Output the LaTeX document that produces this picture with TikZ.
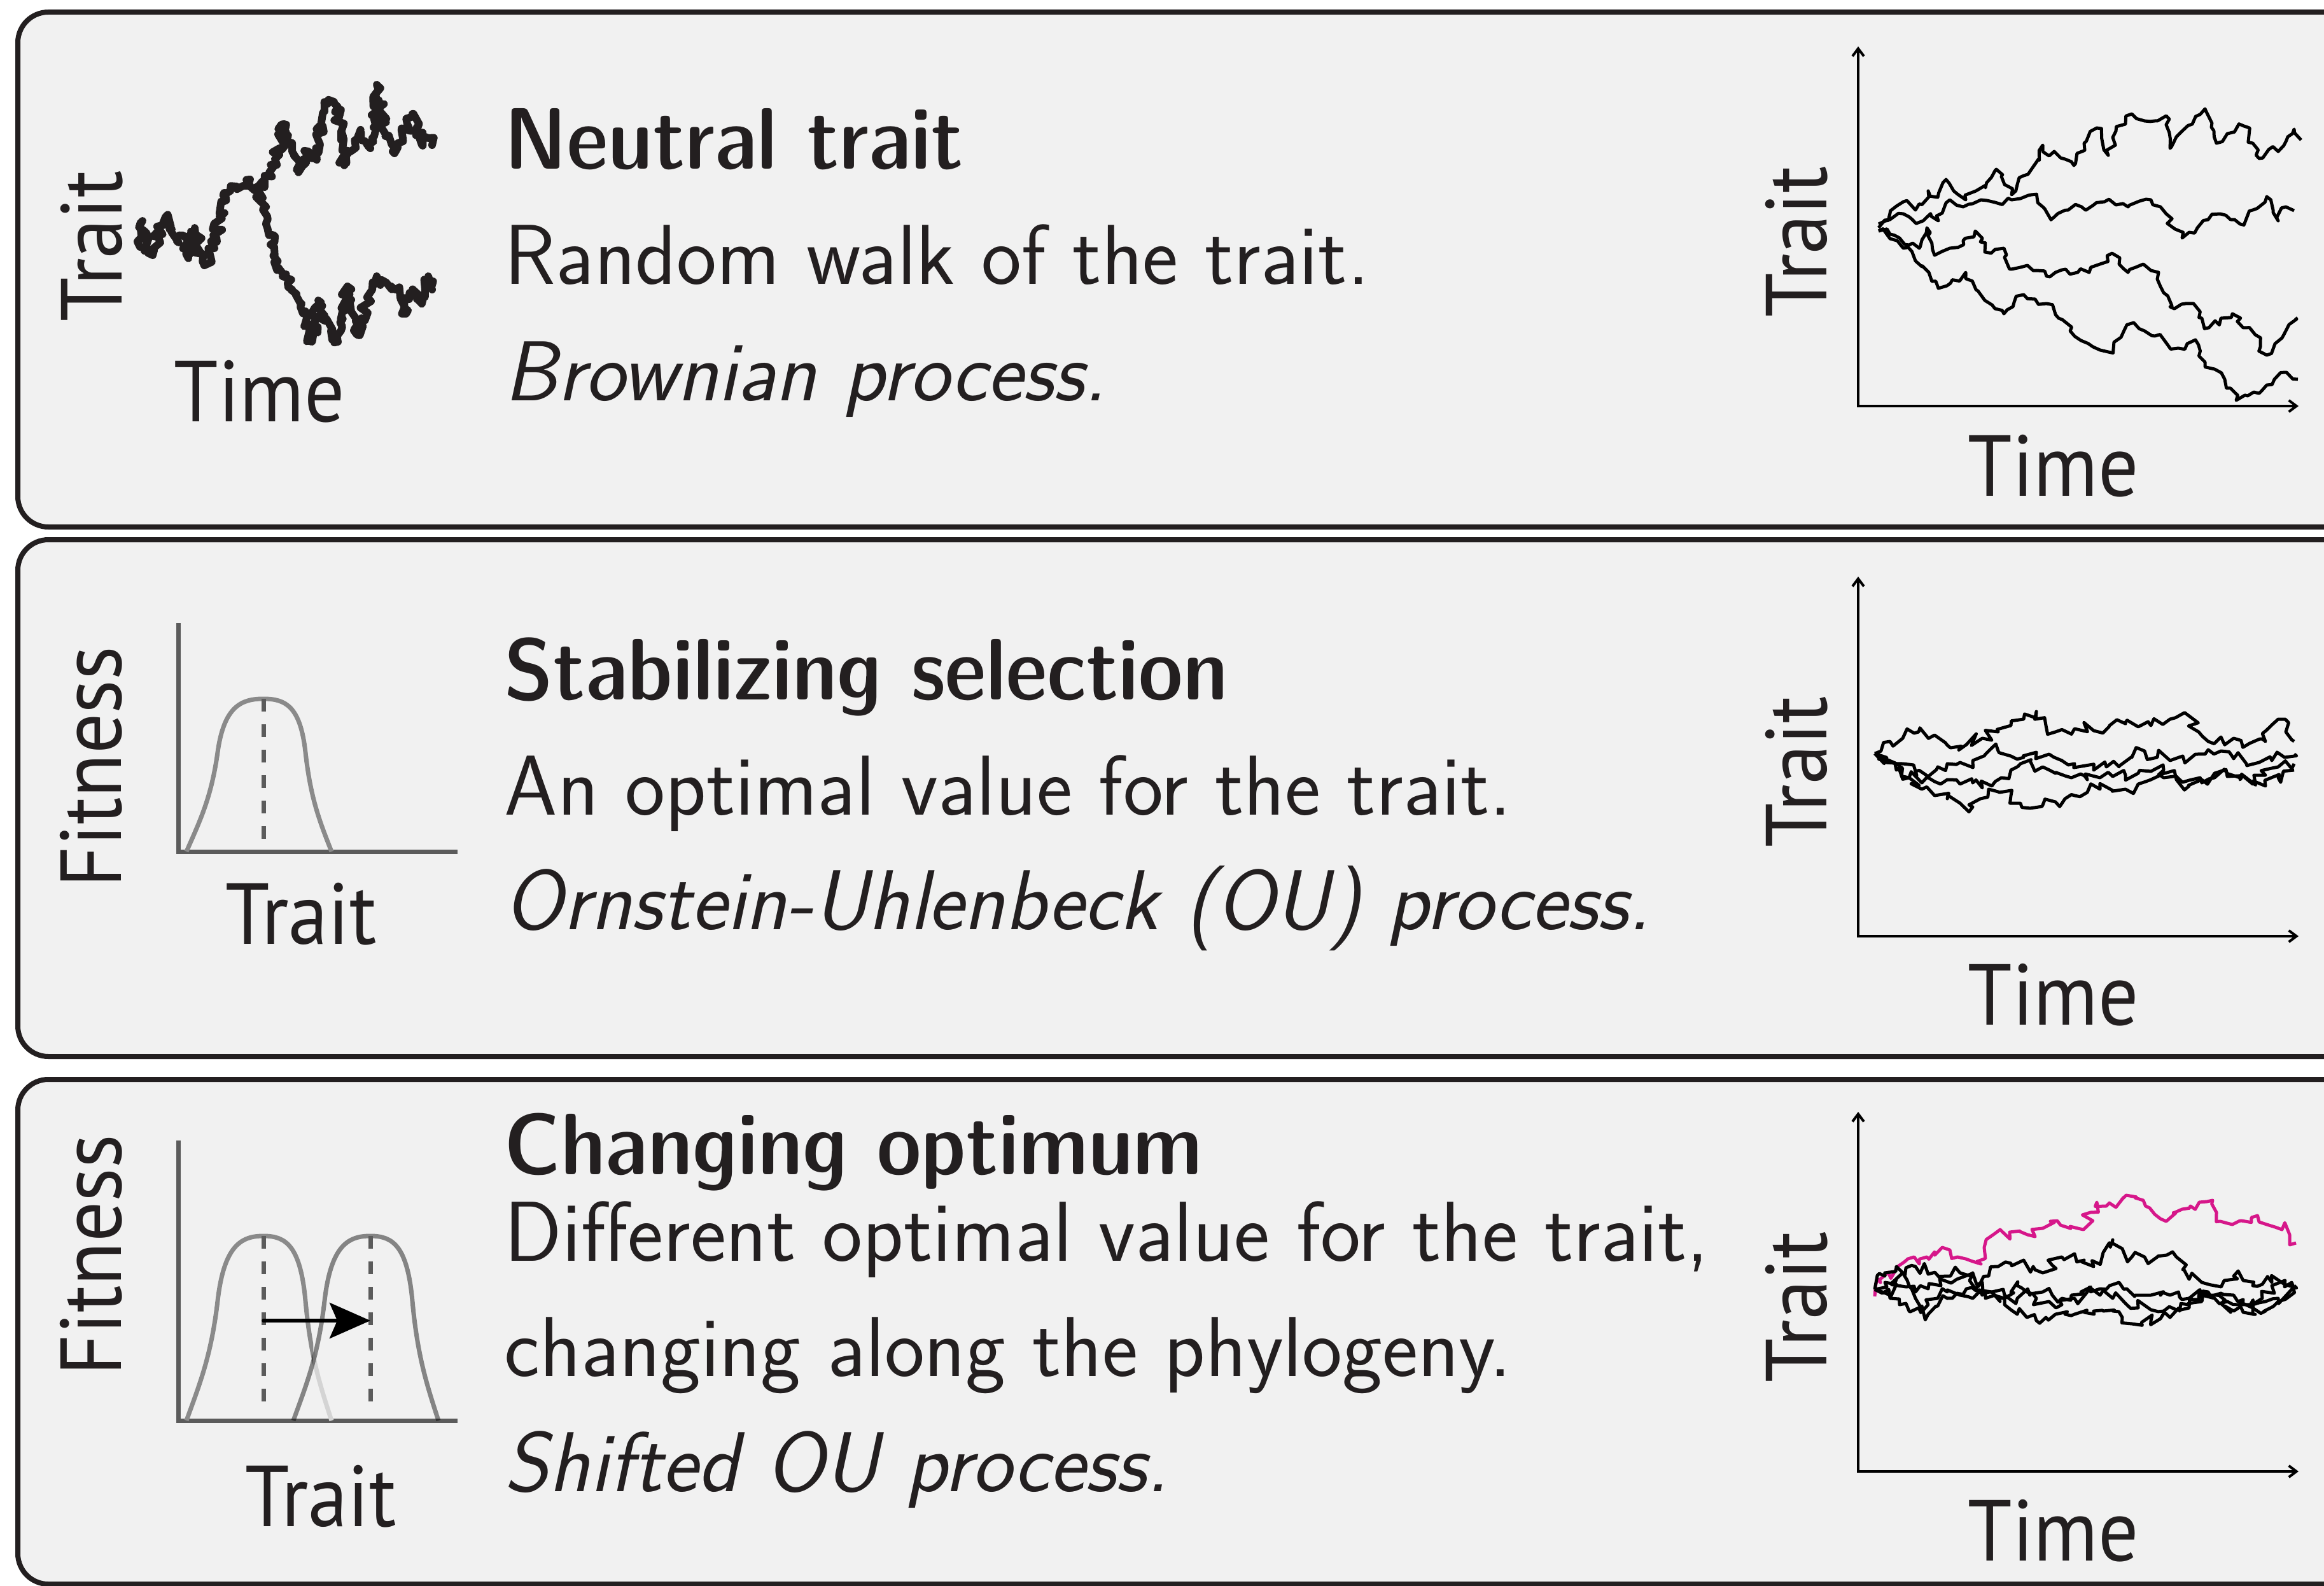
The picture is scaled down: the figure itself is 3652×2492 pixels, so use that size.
\documentclass[tikz,border=0pt]{standalone}
\usepackage{fontspec}
\newfontfamily\labfont{PT Sans}
\usetikzlibrary{arrows.meta,decorations.pathmorphing}
\definecolor{boxfill}{HTML}{F1F1F1}
\definecolor{ink}{HTML}{231F20}
\definecolor{axgray}{HTML}{5B5B5B}
\definecolor{bellgray}{HTML}{8A8A8A}
\definecolor{belllight}{HTML}{D4D4D4}
\definecolor{mag}{HTML}{D6178A}
\newcommand\hwide[1]{\scalebox{1.066}[1]{#1}}
\newcommand\lnarrow[1]{\scalebox{0.92}[1]{#1}}
\tikzset{
  panel/.style={draw=ink,line width=2pt,fill=boxfill,rounded corners=12pt},
  headtxt/.style={anchor=base west,inner sep=0pt,text=ink,font=\sffamily\fontsize{34.25}{41}\fontseries{sbc}\selectfont},
  bodytxt/.style={anchor=base west,inner sep=0pt,text=ink,font=\sffamily\fontsize{33.4}{40}\selectfont},
  slanttxt/.style={anchor=base west,inner sep=0pt,text=ink,font=\sffamily\slshape\fontsize{33.4}{40}\selectfont},
  axlab/.style={anchor=base,inner sep=0pt,text=ink,font=\labfont\fontsize{34}{40}\selectfont},
  vaxlab/.style={axlab,rotate=90},
  plotaxis/.style={line width=1pt,black,>={Straight Barb[length=3pt,width=4.5pt]},<->},
  fitaxis/.style={line width=1.75pt,axgray},
  bell/.style={line width=1.75pt,bellgray},
  optline/.style={line width=1.75pt,axgray,dash pattern=on 5pt off 5pt},
  thickwalk/.style={line width=3pt,ink,line join=round,line cap=round,decorate,decoration={random steps,segment length=1.4pt,amplitude=2pt}},
  bmwalk/.style={line width=1.25pt,black,line join=round,decorate,decoration={random steps,segment length=2.4pt,amplitude=1.7pt}},
  ouwalk/.style={line width=1.25pt,black,line join=round,decorate,decoration={random steps,segment length=2.3pt,amplitude=2.9pt}},
  magwalk/.style={ouwalk,mag},
  shiftarrow/.style={line width=1.5pt,black,line cap=round,-{Stealth[length=16pt,width=14pt,inset=3pt]}},
}
\begin{document}
\begin{tikzpicture}[x=0.25pt,y=-0.25pt]
\pgfmathsetseed{4242}
\fill[white] (0,0) rectangle (3652,2492);
\useasboundingbox (0,0) rectangle (3652,2492);
\clip (0,0) rectangle (3652,2492);

% ---------- panels ----------
\draw[panel] (28,19) rectangle (3720,828);
\draw[panel] (28,848) rectangle (3720,1660);
\draw[panel] (28,1696) rectangle (3720,2489);

% ---------- panel 1 : neutral trait ----------
\draw[thickwalk] (220,388) -- (224,347) -- (232,390) -- (240,401) -- (250,360) -- (260,341) -- (270,360) -- (278,379) -- (288,370) -- (296,406) -- (306,358) -- (314,395) -- (321,417) -- (330,400) -- (337,390) -- (345,340) -- (352,303) -- (362,300) -- (372,293) -- (382,292) -- (393,282) -- (401,295) -- (408,303) -- (416,285) -- (423,271) -- (432,250) -- (439,233) -- (446,195) -- (452,215) -- (459,238) -- (469,271) -- (477,250) -- (485,238) -- (495,249) -- (500,220) -- (505,195) -- (510,175) -- (515,163) -- (525,160) -- (531,168) -- (536,220) -- (541,260) -- (551,238) -- (558,220) -- (566,206) -- (574,222) -- (582,233) -- (587,200) -- (592,133) -- (597,165) -- (602,190) -- (610,215) -- (617,238) -- (625,225) -- (633,217) -- (640,195) -- (648,179) -- (655,200) -- (663,228) -- (668,215) -- (673,217) -- (679,228);
\draw[thickwalk] (408,303) -- (413,320) -- (420,340) -- (429,369) -- (431,412) -- (437,420) -- (444,434) -- (452,445) -- (459,455) -- (466,462) -- (474,477) -- (482,500) -- (490,537) -- (495,500) -- (500,472) -- (505,490) -- (510,504) -- (520,520) -- (531,537) -- (538,490) -- (546,450) -- (552,490) -- (561,526) -- (568,500) -- (577,477) -- (585,455) -- (592,434) -- (600,440) -- (607,444) -- (615,450) -- (622,455) -- (630,470) -- (638,493) -- (643,470) -- (648,455) -- (655,470) -- (663,477) -- (668,455) -- (673,434) -- (679,455);
\node[vaxlab] (l1y) at (191,387) {\lnarrow{Trait}};
\node[axlab] (l1x) at (408,662) {\lnarrow{Time}};

\node[headtxt] (h1) at (792,266) {\hwide{Neutral trait}};
\node[bodytxt] (b1) at (792,447) {Random walk of the trait.};
\node[slanttxt] (s1) at (792,629) {Brownian process.};

\draw[plotaxis] (2920,73) -- (2920,638) -- (3612,638);
\draw[bmwalk] (2952,352) -- (2970,335) -- (2991,317) -- (3010,330) -- (3030,300) -- (3045,310) -- (3058,282) -- (3070,300) -- (3089,314) -- (3105,300) -- (3120,295) -- (3137,266) -- (3150,290) -- (3161,306) -- (3170,290) -- (3180,276) -- (3195,262) -- (3210,228) -- (3220,245) -- (3228,238) -- (3245,250) -- (3259,260) -- (3275,225) -- (3295,201) -- (3305,230) -- (3313,244) -- (3325,206) -- (3340,195) -- (3350,179) -- (3370,190) -- (3386,190) -- (3404,182) -- (3410,233) -- (3420,215) -- (3429,206) -- (3445,195) -- (3465,171) -- (3475,200) -- (3483,225) -- (3500,210) -- (3526,198) -- (3540,225) -- (3550,249) -- (3565,235) -- (3580,238) -- (3595,215) -- (3605,203) -- (3616,220);
\draw[bmwalk] (2952,358) -- (2970,345) -- (2991,336) -- (3005,345) -- (3022,347) -- (3035,340) -- (3046,347) -- (3064,314) -- (3085,325) -- (3100,320) -- (3113,314) -- (3135,318) -- (3161,314) -- (3175,312) -- (3192,306) -- (3210,325) -- (3228,341) -- (3250,330) -- (3271,325) -- (3290,322) -- (3307,317) -- (3325,322) -- (3344,325) -- (3362,316) -- (3380,314) -- (3395,325) -- (3404,336) -- (3418,360) -- (3429,374) -- (3440,365) -- (3453,358) -- (3470,345) -- (3489,336) -- (3505,345) -- (3520,352) -- (3540,330) -- (3562,309) -- (3572,330) -- (3580,347) -- (3592,325) -- (3605,331);
\draw[bmwalk] (2952,363) -- (2970,368) -- (2985,374) -- (3000,385) -- (3016,390) -- (3028,358) -- (3040,401) -- (3052,395) -- (3064,390) -- (3085,378) -- (3104,363) -- (3112,380) -- (3119,396) -- (3135,392) -- (3149,390) -- (3161,423) -- (3175,420) -- (3186,417) -- (3200,425) -- (3216,434) -- (3230,428) -- (3246,423) -- (3265,428) -- (3283,428) -- (3300,415) -- (3319,398) -- (3330,415) -- (3344,428) -- (3356,420) -- (3368,415) -- (3380,425) -- (3392,428) -- (3400,460) -- (3410,482) -- (3428,478) -- (3447,477) -- (3460,500) -- (3471,515) -- (3490,500) -- (3508,493) -- (3525,515) -- (3544,526) -- (3552,545) -- (3562,558) -- (3575,540) -- (3586,531) -- (3597,510) -- (3607,499);
\draw[bmwalk] (2952,363) -- (2970,375) -- (2991,390) -- (3010,410) -- (3031,428) -- (3046,453) -- (3065,445) -- (3089,428) -- (3105,455) -- (3119,472) -- (3135,485) -- (3149,493) -- (3165,475) -- (3180,463) -- (3198,470) -- (3216,477) -- (3235,500) -- (3253,520) -- (3270,535) -- (3289,545) -- (3300,550) -- (3313,553) -- (3333,530) -- (3353,507) -- (3370,520) -- (3386,528) -- (3405,540) -- (3423,547) -- (3437,540) -- (3450,534) -- (3465,569) -- (3480,580) -- (3496,596) -- (3505,610) -- (3514,629) -- (3532,622) -- (3550,618) -- (3562,605) -- (3574,596) -- (3593,585) -- (3611,596);
\node[vaxlab] (r1y) at (2870,380) {\lnarrow{Trait}};
\node[axlab] (r1x) at (3227,779) {\lnarrow{Time}};

% ---------- panel 2 : stabilizing selection ----------
\draw[fitaxis] (280,979) -- (280,1338) -- (719,1338);
\draw[bell] (293,1338) .. controls (314,1290) and (332,1254) .. (342,1182) .. controls (352,1110) and (379,1098) .. (414,1098) .. controls (449,1098) and (472,1110) .. (480,1182) .. controls (488,1254) and (502,1290) .. (521,1338);
\draw[optline] (414,1098) -- (414,1329);
\node[vaxlab] (l2y) at (190,1205) {\lnarrow{Fitness}};
\node[axlab] (l2x) at (473,1483) {\lnarrow{Trait}};

\node[headtxt] (h2) at (792,1099) {\hwide{Stabilizing selection}};
\node[bodytxt] (b2) at (792,1280) {An optimal value for the trait.};
\node[slanttxt] (s2) at (792,1460) {Ornstein-Uhlenbeck (OU) process.};

\draw[plotaxis] (2920,906) -- (2920,1471) -- (3612,1471);
\draw[ouwalk] (2946,1184) -- (2970,1165) -- (2990,1160) -- (3015,1150) -- (3040,1155) -- (3065,1175) -- (3090,1170) -- (3115,1160) -- (3140,1150) -- (3160,1140) -- (3180,1130) -- (3200,1118) -- (3215,1140) -- (3230,1150) -- (3260,1145) -- (3290,1148) -- (3315,1140) -- (3340,1135) -- (3360,1142) -- (3380,1140) -- (3410,1130) -- (3440,1125) -- (3455,1150) -- (3470,1165) -- (3490,1158) -- (3510,1160) -- (3535,1168) -- (3560,1165) -- (3580,1130) -- (3592,1150) -- (3605,1165);
\draw[ouwalk] (2946,1184) -- (2968,1195) -- (2990,1200) -- (3010,1212) -- (3030,1220) -- (3045,1205) -- (3060,1200) -- (3080,1198) -- (3100,1195) -- (3120,1185) -- (3140,1180) -- (3160,1188) -- (3180,1190) -- (3200,1182) -- (3220,1185) -- (3240,1195) -- (3260,1200) -- (3290,1210) -- (3310,1205) -- (3330,1205) -- (3350,1190) -- (3370,1180) -- (3390,1190) -- (3410,1195) -- (3430,1188) -- (3450,1185) -- (3470,1178) -- (3490,1180) -- (3510,1192) -- (3530,1200) -- (3550,1198) -- (3570,1195) -- (3590,1190) -- (3605,1185);
\draw[ouwalk] (2946,1184) -- (2962,1198) -- (2980,1210) -- (3000,1222) -- (3020,1230) -- (3040,1228) -- (3060,1225) -- (3080,1232) -- (3100,1230) -- (3115,1238) -- (3130,1235) -- (3145,1222) -- (3160,1210) -- (3175,1200) -- (3190,1195) -- (3210,1205) -- (3230,1215) -- (3255,1222) -- (3280,1225) -- (3300,1222) -- (3320,1220) -- (3340,1218) -- (3360,1215) -- (3380,1212) -- (3400,1210) -- (3420,1225) -- (3440,1235) -- (3460,1225) -- (3480,1215) -- (3500,1220) -- (3520,1225) -- (3540,1232) -- (3560,1235) -- (3580,1222) -- (3605,1210);
\draw[ouwalk] (2946,1184) -- (2962,1192) -- (2980,1200) -- (3000,1222) -- (3020,1240) -- (3040,1250) -- (3060,1255) -- (3080,1262) -- (3100,1268) -- (3112,1255) -- (3125,1240) -- (3142,1245) -- (3160,1250) -- (3175,1262) -- (3190,1270) -- (3210,1265) -- (3230,1260) -- (3245,1255) -- (3260,1250) -- (3280,1245) -- (3300,1240) -- (3320,1242) -- (3340,1240) -- (3360,1232) -- (3380,1225) -- (3400,1222) -- (3420,1220) -- (3440,1226) -- (3460,1230) -- (3480,1222) -- (3500,1215) -- (3520,1222) -- (3540,1230) -- (3560,1218) -- (3580,1205) -- (3605,1200);
\node[vaxlab] (r2y) at (2870,1213) {\lnarrow{Trait}};
\node[axlab] (r2x) at (3227,1610) {\lnarrow{Time}};

% ---------- panel 3 : changing optimum ----------
\draw[fitaxis] (280,1792) -- (280,2232) -- (719,2232);
\begin{scope}
  \clip (250,1900) rectangle (492,2240);
  \draw[bell] (293,2232) .. controls (314,2174) and (332,2130) .. (342,2044) .. controls (352,1957) and (379,1942) .. (414,1942) .. controls (449,1942) and (472,1957) .. (480,2044) .. controls (488,2130) and (502,2174) .. (521,2232);
\end{scope}
\begin{scope}
  \clip (492,1900) rectangle (560,2240);
  \draw[bell,belllight] (293,2232) .. controls (314,2174) and (332,2130) .. (342,2044) .. controls (352,1957) and (379,1942) .. (414,1942) .. controls (449,1942) and (472,1957) .. (480,2044) .. controls (488,2130) and (502,2174) .. (521,2232);
\end{scope}
\draw[bell,draw=black,draw opacity=0.45] (461,2232) .. controls (482,2174) and (500,2130) .. (510,2044) .. controls (520,1957) and (547,1942) .. (582,1942) .. controls (617,1942) and (640,1957) .. (648,2044) .. controls (656,2130) and (670,2174) .. (689,2232);
\draw[optline] (414,1942) -- (414,2211);
\draw[optline] (582,1942) -- (582,2211);
\coordinate (arrS) at (414,2075);
\coordinate (arrE) at (582,2075);
\draw[shiftarrow] (arrS) -- (arrE);
\node[vaxlab] (l3y) at (190,1972) {\lnarrow{Fitness}};
\node[axlab] (l3x) at (504,2398) {\lnarrow{Trait}};

\node[headtxt] (h3) at (792,1845) {\hwide{Changing optimum}};
\node[bodytxt] (b3a) at (792,1981) {Different optimal value for the trait,};
\node[bodytxt] (b3b) at (792,2162) {changing along the phylogeny.};
\node[slanttxt] (s3) at (792,2343) {Shifted OU process.};

\draw[plotaxis] (2920,1747) -- (2920,2312) -- (3612,2312);
\draw[magwalk] (2946,2037) -- (2955,2015) -- (2967,1999) -- (2982,1990) -- (2998,1978) -- (3008,1975) -- (3016,1986) -- (3028,1975) -- (3040,1967) -- (3052,1960) -- (3064,1964) -- (3076,1975) -- (3089,1978) -- (3100,1982) -- (3113,1986) -- (3118,1960) -- (3125,1945) -- (3135,1938) -- (3143,1932) -- (3158,1936) -- (3174,1935) -- (3186,1940) -- (3198,1943) -- (3210,1930) -- (3222,1919) -- (3238,1925) -- (3253,1927) -- (3265,1930) -- (3274,1932) -- (3285,1905) -- (3295,1889) -- (3310,1895) -- (3325,1897) -- (3334,1885) -- (3341,1878) -- (3355,1882) -- (3368,1886) -- (3378,1898) -- (3386,1908) -- (3395,1915) -- (3404,1919) -- (3416,1905) -- (3429,1900) -- (3442,1895) -- (3456,1889) -- (3468,1888) -- (3477,1886) -- (3483,1905) -- (3489,1919) -- (3500,1922) -- (3508,1924) -- (3522,1918) -- (3538,1913) -- (3550,1920) -- (3562,1924) -- (3575,1928) -- (3586,1932) -- (3598,1940) -- (3608,1953);
\draw[ouwalk] (2946,2026) -- (2962,2005) -- (2980,1990) -- (2995,1992) -- (3010,1990) -- (3030,2002) -- (3050,2010) -- (3065,2005) -- (3080,2000) -- (3095,2012) -- (3110,2020) -- (3125,2005) -- (3140,1990) -- (3160,1985) -- (3180,1980) -- (3195,1990) -- (3210,2000) -- (3225,1988) -- (3240,1975) -- (3260,1970) -- (3275,1980) -- (3290,1990) -- (3305,1968) -- (3320,1948) -- (3335,1962) -- (3350,1975) -- (3370,1975) -- (3390,1975) -- (3405,1972) -- (3420,1975) -- (3430,1995) -- (3440,2010) -- (3460,2015) -- (3480,2020) -- (3495,2012) -- (3510,2005) -- (3525,2012) -- (3540,2020) -- (3555,2018) -- (3570,2015) -- (3590,2018) -- (3605,2020);
\draw[ouwalk] (2946,2026) -- (2962,2015) -- (2980,2010) -- (2995,2022) -- (3010,2030) -- (3030,2025) -- (3050,2020) -- (3075,2010) -- (3100,2000) -- (3115,2015) -- (3130,2030) -- (3150,2035) -- (3170,2040) -- (3190,2035) -- (3210,2030) -- (3225,2035) -- (3240,2040) -- (3255,2035) -- (3270,2030) -- (3285,2028) -- (3300,2025) -- (3315,2020) -- (3330,2015) -- (3342,2025) -- (3355,2035) -- (3368,2035) -- (3380,2035) -- (3395,2035) -- (3410,2035) -- (3425,2038) -- (3440,2040) -- (3455,2038) -- (3470,2035) -- (3490,2048) -- (3510,2060) -- (3525,2062) -- (3540,2065) -- (3555,2040) -- (3570,2020) -- (3590,2022) -- (3605,2025);
\draw[ouwalk] (2946,2026) -- (2958,2032) -- (2970,2040) -- (2985,2050) -- (3000,2060) -- (3015,2055) -- (3030,2050) -- (3045,2040) -- (3060,2030) -- (3080,2035) -- (3100,2040) -- (3115,2035) -- (3130,2030) -- (3140,2040) -- (3150,2050) -- (3160,2058) -- (3170,2065) -- (3185,2070) -- (3200,2075) -- (3215,2070) -- (3230,2065) -- (3245,2065) -- (3260,2065) -- (3275,2062) -- (3290,2060) -- (3305,2060) -- (3320,2060) -- (3335,2070) -- (3350,2080) -- (3365,2078) -- (3380,2075) -- (3395,2072) -- (3410,2070) -- (3425,2060) -- (3440,2050) -- (3460,2045) -- (3480,2040) -- (3500,2045) -- (3520,2050) -- (3540,2055) -- (3560,2060) -- (3580,2045) -- (3605,2030);
\draw[ouwalk] (2946,2026) -- (2958,2030) -- (2970,2035) -- (2980,2018) -- (2990,2000) -- (3000,2020) -- (3010,2040) -- (3020,2052) -- (3030,2065) -- (3045,2052) -- (3060,2040) -- (3075,2032) -- (3090,2025) -- (3105,2028) -- (3120,2030) -- (3135,2035) -- (3150,2040) -- (3160,2030) -- (3170,2020) -- (3185,2030) -- (3200,2040) -- (3220,2045) -- (3240,2050) -- (3260,2040) -- (3280,2030) -- (3300,2035) -- (3320,2040) -- (3340,2048) -- (3360,2055) -- (3380,2058) -- (3400,2060) -- (3420,2058) -- (3440,2055) -- (3455,2042) -- (3470,2030) -- (3490,2032) -- (3510,2035) -- (3525,2042) -- (3540,2050) -- (3560,2045) -- (3580,2040) -- (3605,2030);
\node[vaxlab] (r3y) at (2870,2054) {\lnarrow{Trait}};
\node[axlab] (r3x) at (3227,2452) {\lnarrow{Time}};
\end{tikzpicture}
\end{document}
